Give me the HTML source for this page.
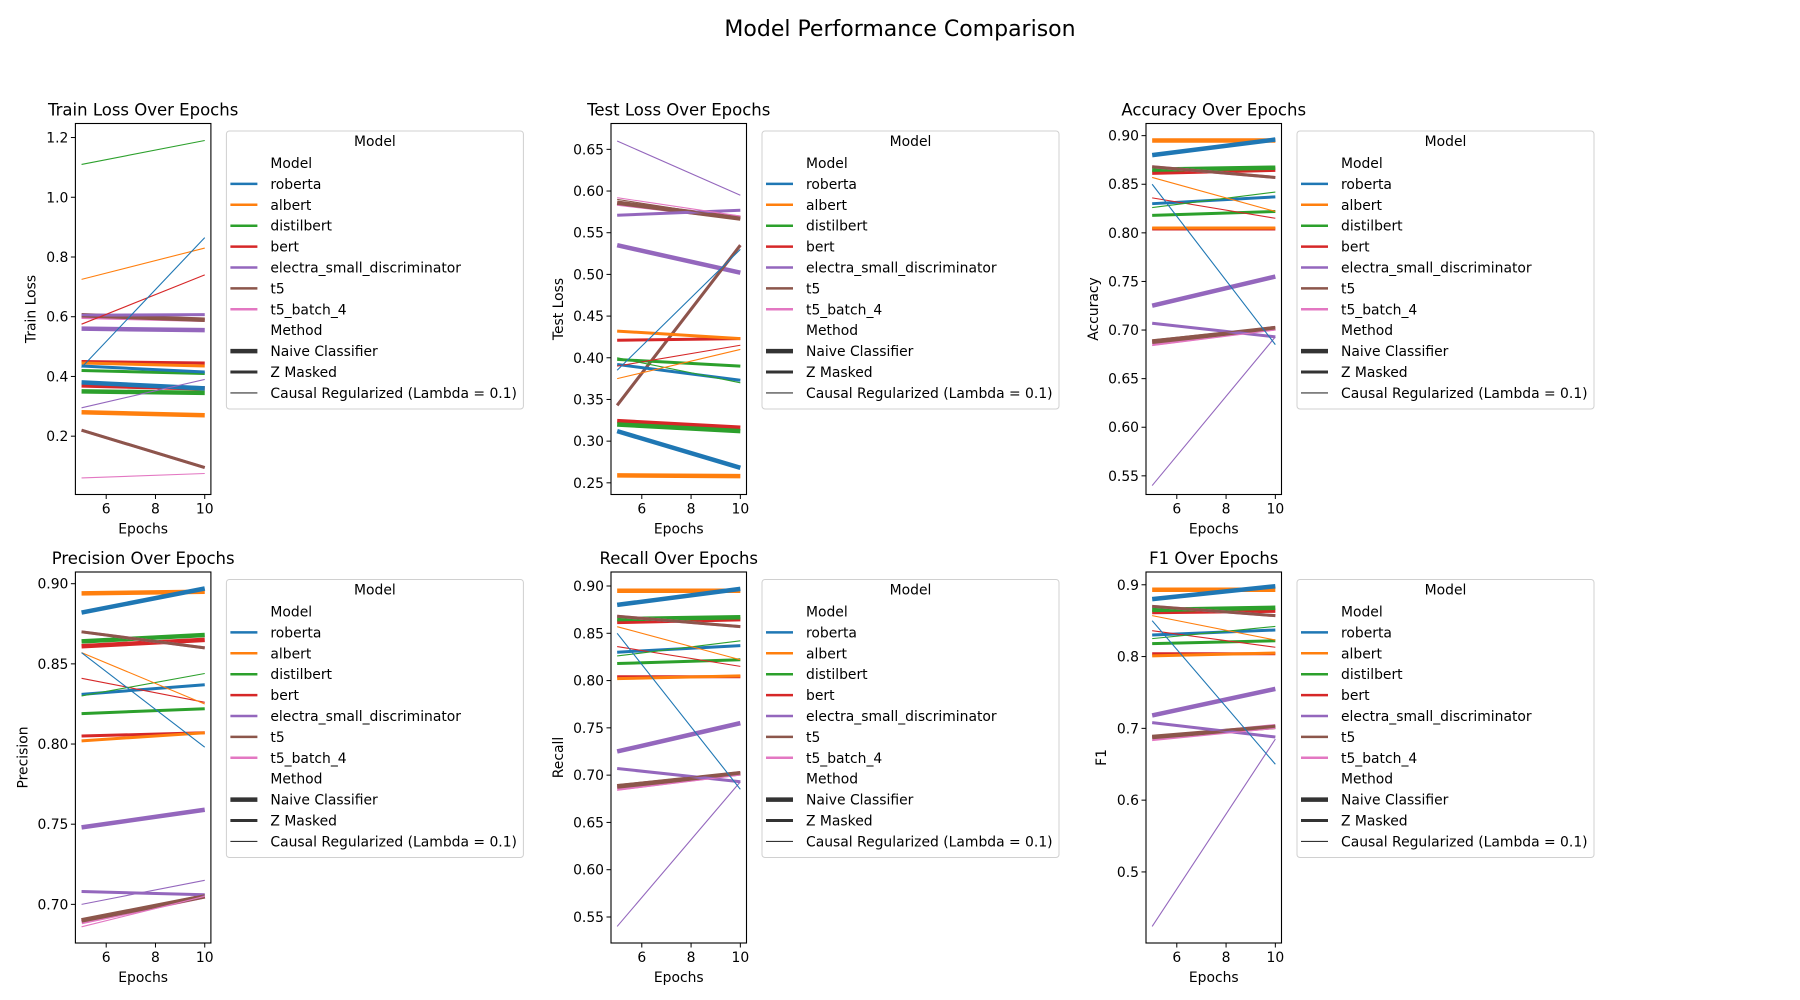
<!DOCTYPE html>
<html><head><meta charset="utf-8"><style>
html,body{margin:0;padding:0;background:#fff;}
svg{display:block;font-family:"DejaVu Sans","Liberation Sans",sans-serif;}
</style></head><body>
<svg id="fig" width="1800" height="1000" viewBox="0 0 1800 1000" xmlns="http://www.w3.org/2000/svg">
<rect width="1800" height="1000" fill="#fff"/>
<text x="900" y="36" font-size="22" text-anchor="middle">Model Performance Comparison</text>
</svg>
<script>
const models = ["roberta","albert","distilbert","bert","electra_small_discriminator","t5","t5_batch_4"];
const methods = ["Naive Classifier","Z Masked","Causal Regularized (Lambda = 0.1)"];
const epochs = [5,10];
const colors = ["#1f77b4","#ff7f0e","#2ca02c","#d62728","#9467bd","#8c564b","#e377c2"];
const widths = [4.5,3,1.1];
// values: [method][model] = [epoch5, epoch10]
const trainLoss = [
 [[0.38,0.36],[0.28,0.27],[0.35,0.345],[0.37,0.36],[0.56,0.555],[0.605,0.59],[0.6,0.59]],
 [[0.435,0.415],[0.445,0.435],[0.42,0.41],[0.45,0.445],[0.605,0.607],[0.22,0.095],[0.22,0.095]],
 [[0.43,0.865],[0.725,0.83],[1.11,1.19],[0.575,0.74],[0.295,0.39],[0.6,0.59],[0.06,0.075]]];
const testLoss = [
 [[0.312,0.268],[0.259,0.258],[0.32,0.312],[0.324,0.316],[0.535,0.502],[0.586,0.567],[0.585,0.568]],
 [[0.392,0.373],[0.432,0.423],[0.398,0.39],[0.421,0.423],[0.571,0.577],[0.343,0.535],[0.343,0.535]],
 [[0.385,0.53],[0.375,0.41],[0.4,0.37],[0.39,0.415],[0.66,0.595],[0.59,0.567],[0.592,0.57]]];
const accuracy = [
 [[0.88,0.896],[0.895,0.895],[0.865,0.867],[0.862,0.865],[0.725,0.755],[0.688,0.702],[0.686,0.702]],
 [[0.83,0.837],[0.805,0.805],[0.818,0.822],[0.804,0.804],[0.707,0.693],[0.868,0.857],[0.868,0.857]],
 [[0.85,0.685],[0.857,0.822],[0.826,0.842],[0.836,0.815],[0.54,0.693],[0.69,0.703],[0.684,0.70]]];
const precision = [
 [[0.882,0.897],[0.894,0.895],[0.864,0.868],[0.861,0.865],[0.748,0.759],[0.69,0.705],[0.689,0.705]],
 [[0.831,0.837],[0.802,0.807],[0.819,0.822],[0.805,0.807],[0.708,0.706],[0.87,0.86],[0.87,0.86]],
 [[0.857,0.798],[0.857,0.825],[0.83,0.844],[0.841,0.826],[0.70,0.715],[0.69,0.706],[0.686,0.705]]];
const recall = [
 [[0.88,0.897],[0.895,0.895],[0.865,0.867],[0.862,0.865],[0.725,0.755],[0.688,0.702],[0.686,0.702]],
 [[0.83,0.837],[0.802,0.805],[0.818,0.822],[0.804,0.804],[0.707,0.693],[0.868,0.857],[0.868,0.857]],
 [[0.85,0.685],[0.857,0.822],[0.826,0.842],[0.836,0.815],[0.54,0.693],[0.69,0.703],[0.684,0.70]]];
const f1 = [
 [[0.88,0.898],[0.893,0.893],[0.865,0.868],[0.862,0.864],[0.718,0.755],[0.688,0.702],[0.686,0.703]],
 [[0.83,0.837],[0.801,0.805],[0.818,0.822],[0.804,0.804],[0.708,0.688],[0.87,0.857],[0.87,0.857]],
 [[0.85,0.65],[0.857,0.823],[0.825,0.842],[0.836,0.813],[0.424,0.685],[0.688,0.703],[0.683,0.70]]];
const xTicks = [6,8,10];
const trainTicks = [0.2,0.4,0.6,0.8,1.0,1.2];
const testTicks = [0.25,0.30,0.35,0.40,0.45,0.50,0.55,0.60,0.65];
const accTicks = [0.55,0.60,0.65,0.70,0.75,0.80,0.85,0.90];
const precTicks = [0.70,0.75,0.80,0.85,0.90];
const recTicks = [0.55,0.60,0.65,0.70,0.75,0.80,0.85,0.90];
const f1Ticks = [0.5,0.6,0.7,0.8,0.9];

const panels = [
 {name:"train-loss",title:"Train Loss Over Epochs",ylabel:"Train Loss",data:trainLoss,ticks:trainTicks,dec:1,x:75.4,y:123.5,lim:[0.0047,1.247]},
 {name:"test-loss",title:"Test Loss Over Epochs",ylabel:"Test Loss",data:testLoss,ticks:testTicks,dec:2,x:611,y:123.5,lim:[0.236,0.681]},
 {name:"accuracy",title:"Accuracy Over Epochs",ylabel:"Accuracy",data:accuracy,ticks:accTicks,dec:2,x:1146,y:123.5,lim:[0.5308,0.9125]},
 {name:"precision",title:"Precision Over Epochs",ylabel:"Precision",data:precision,ticks:precTicks,dec:2,x:75.4,y:572,lim:[0.6759,0.9073]},
 {name:"recall",title:"Recall Over Epochs",ylabel:"Recall",data:recall,ticks:recTicks,dec:2,x:611,y:572,lim:[0.5225,0.9148]},
 {name:"f1",title:"F1 Over Epochs",ylabel:"F1",data:f1,ticks:f1Ticks,dec:1,x:1146,y:572,lim:[0.401,0.9178]}];
const NS="http://www.w3.org/2000/svg";
const fig=document.getElementById('fig');
function mk(tag,attrs,parent,txt){const e=document.createElementNS(NS,tag);for(const k in attrs)e.setAttribute(k,attrs[k]);if(txt!==undefined)e.textContent=txt;parent.appendChild(e);return e;}
const W=135.5,H=371;
panels.forEach(p=>{
 const g=mk('g',{},fig);
 
 
 const xs=v=>p.x+(v-4.75)/5.5*W;
 const ys=v=>p.y+H-(v-p.lim[0])/(p.lim[1]-p.lim[0])*H;
 const t=mk('text',{x:p.x+W/2,y:p.y-8,'font-size':16.5,'text-anchor':'middle'},g,p.title);
 
 
 for(let m=0;m<3;m++){for(let k=models.length-1;k>=0;k--){
  const v=p.data[m][k];
  const ln=mk('line',{x1:xs(epochs[0]),y1:ys(v[0]),x2:xs(epochs[1]),y2:ys(v[1]),stroke:colors[k],'stroke-width':widths[m]},g);
  
  
 }}
 const fr=mk('rect',{x:p.x,y:p.y,width:W,height:H,fill:'none',stroke:'#000','stroke-width':1.1},g);
 
 
 xTicks.forEach(v=>{
  mk('line',{x1:xs(v),x2:xs(v),y1:p.y+H,y2:p.y+H+4.5,stroke:'#000'},g);
  const tl=mk('text',{x:xs(v),y:p.y+H+19,'font-size':13.9,'text-anchor':'middle'},g,String(v));
  
  
 });
 p.ticks.forEach(v=>{
  mk('line',{x1:p.x-4.5,x2:p.x,y1:ys(v),y2:ys(v),stroke:'#000'},g);
  const tl=mk('text',{x:p.x-7,y:ys(v)+5,'font-size':13.9,'text-anchor':'end'},g,v.toFixed(p.dec));
  
  
 });
 const xl=mk('text',{x:p.x+W/2,y:p.y+H+39,'font-size':13.9,'text-anchor':'middle'},g,'Epochs');
 
 
 const lx=p.dec===1?p.x-40:p.x-48;
 const yl=mk('text',{x:lx,y:p.y+H/2,'font-size':13.9,'text-anchor':'middle',transform:`rotate(-90 ${lx} ${p.y+H/2})`},g,p.ylabel);
 
 
 const L=mk('g',{},g);
 
 
 const lx0=p.x+W+15.5, ly0=p.y+7.5;
 mk('rect',{x:lx0,y:ly0,width:297,height:278,rx:3,fill:'#fff',stroke:'#d0d0d0'},L);
 mk('text',{x:lx0+148.5,y:ly0+15,'font-size':13.9,'text-anchor':'middle'},L,'Model');
 const items=[["Model",null,0]].concat(models.map((m,i)=>[m,colors[i],2.5]),[["Method",null,0]],methods.map((m,i)=>[m,'#333',[4.5,3,1.1][i]]));
 items.forEach((it,i)=>{
  const yy=ly0+37+i*20.9;
  if(it[1]) mk('line',{x1:lx0+4,x2:lx0+31,y1:yy-5,y2:yy-5,stroke:it[1],'stroke-width':it[2]},L);
  const tx=mk('text',{x:lx0+44,y:yy,'font-size':13.9},L,it[0]);
  
  
 });
});
</script>
</body></html>
